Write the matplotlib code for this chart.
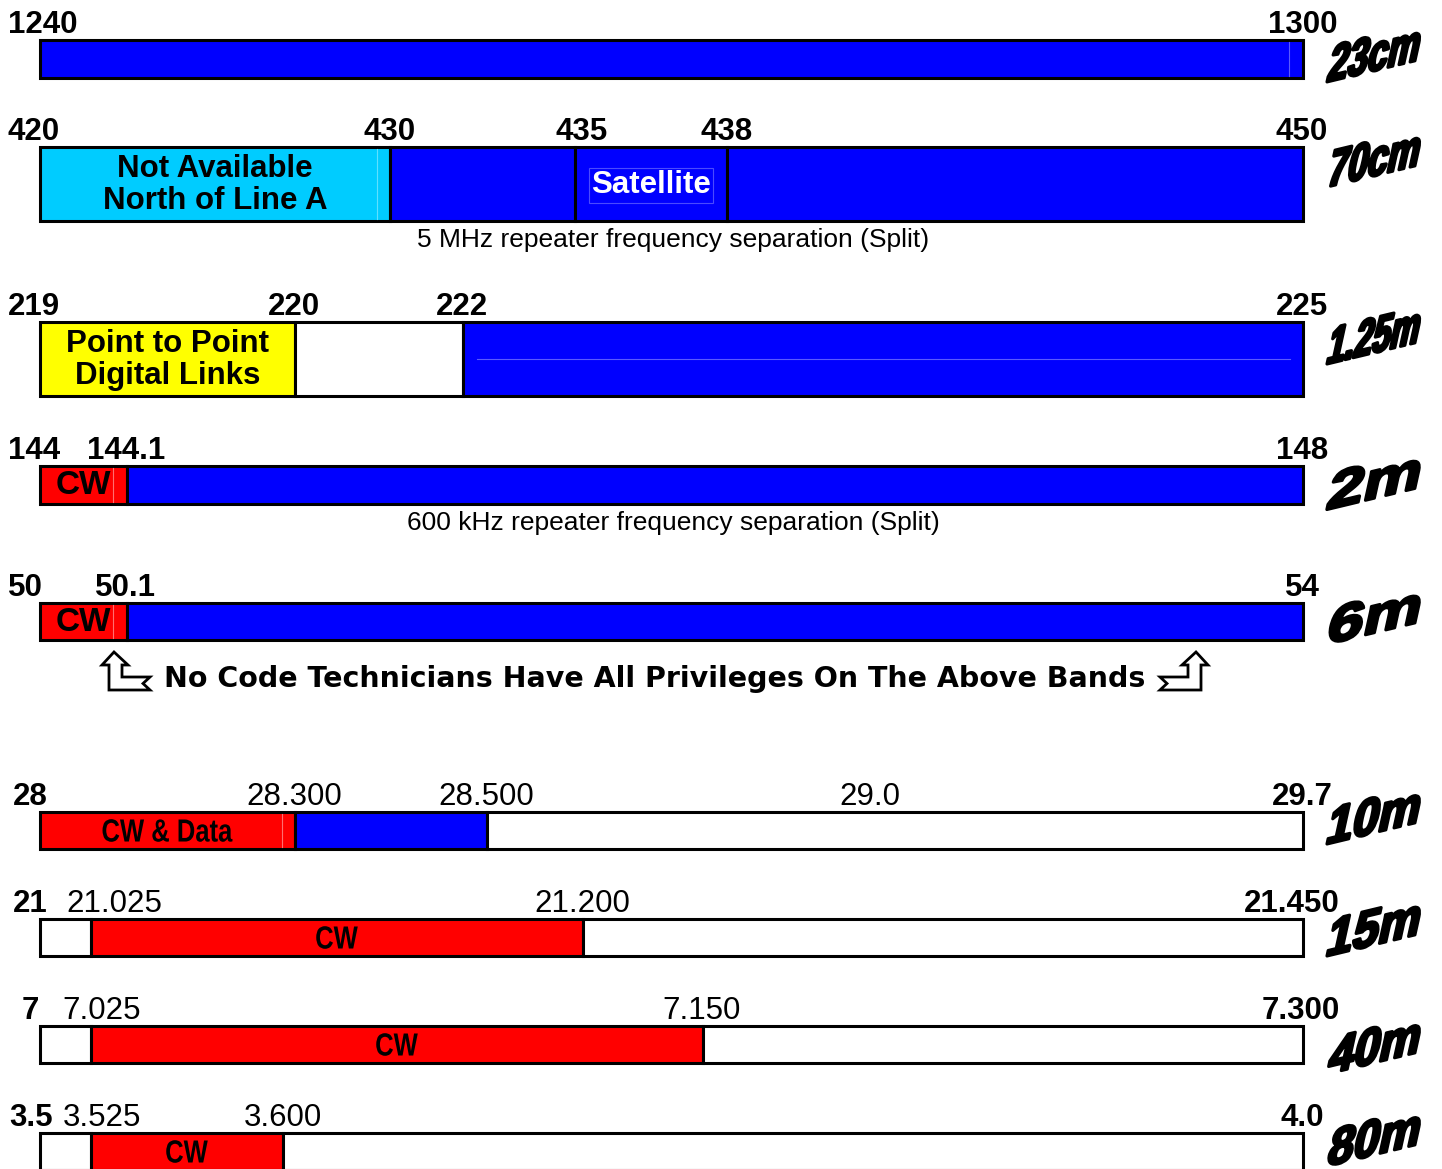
import math
import matplotlib.pyplot as plt
from matplotlib.patches import Polygon, PathPatch
from matplotlib.textpath import TextPath
from matplotlib.transforms import Affine2D
from matplotlib.font_manager import FontProperties

BLUE, CYAN, RED, YELLOW, WHITE = '#0000ff', '#00ccff', '#ff0000', '#ffff00', '#ffffff'

# --- band plan data ---
bands = ['23cm', '70cm', '1.25m', '2m', '6m', '10m', '15m', '40m', '80m']

freq_23cm = ['1240', '1300']
freq_70cm = ['420', '430', '435', '438', '450']
freq_125m = ['219', '220', '222', '225']
freq_2m = ['144', '144.1', '148']
freq_6m = ['50', '50.1', '54']
freq_10m = ['28', '28.300', '28.500', '29.0', '29.7']
freq_15m = ['21', '21.025', '21.200', '21.450']
freq_40m = ['7', '7.025', '7.150', '7.300']
freq_80m = ['3.5', '3.525', '3.600', '4.0']

colors_23cm = [BLUE]
colors_70cm = [CYAN, BLUE, BLUE, BLUE]
colors_125m = [YELLOW, WHITE, BLUE]
colors_2m = [RED, BLUE]
colors_6m = [RED, BLUE]
colors_10m = [RED, BLUE, WHITE]
colors_15m = [WHITE, RED, WHITE]
colors_40m = [WHITE, RED, WHITE]
colors_80m = [WHITE, RED, WHITE]

text_23cm = ['']
text_70cm = ['Not Available\nNorth of Line A', '', 'Satellite', '']
text_125m = ['Point to Point\nDigital Links', '', '']
text_2m = ['CW', '']
text_6m = ['CW', '']
text_10m = ['CW & Data', '', '']
text_15m = ['', 'CW', '']
text_40m = ['', 'CW', '']
text_80m = ['', 'CW', '']

captions = {'70cm': '5 MHz repeater frequency separation (Split)',
            '2m': '600 kHz repeater frequency separation (Split)'}
note = 'No Code Technicians Have All Privileges On The Above Bands'

freqs = [freq_23cm, freq_70cm, freq_125m, freq_2m, freq_6m,
         freq_10m, freq_15m, freq_40m, freq_80m]
colors = [colors_23cm, colors_70cm, colors_125m, colors_2m, colors_6m,
          colors_10m, colors_15m, colors_40m, colors_80m]
texts = [text_23cm, text_70cm, text_125m, text_2m, text_6m,
         text_10m, text_15m, text_40m, text_80m]

# --- layout (pixels) ---
stops = [[40, 1303], [40, 390, 575, 727, 1303], [40, 295, 463, 1303],
         [40, 127, 1303], [40, 127, 1303], [40, 295, 487, 1303],
         [40, 91, 583, 1303], [40, 91, 703, 1303], [40, 91, 283, 1303]]
label_x = [[8, 1303], [8, 390, 582, 727, 1302], [8, 294, 462, 1302],
           [8, 126, 1302], [8, 125, 1302], [30, 294, 486, 870, 1302],
           [30, 114, 582, 1292], [30, 102, 702, 1301], [31, 102, 283, 1302]]
bar_top = [40, 147, 322, 466, 603, 812, 919, 1026, 1133]
bar_h = [38, 74, 74, 38, 37, 37, 37, 37, 37]
name_y = [53, 158, 335, 480, 615, 815, 927, 1045, 1137]
seams = {0: ('v', 1289, '#5a5aff'), 1: ('v', 377, '#5fe0ff'),
         3: ('v', 113, '#ff7070'), 4: ('v', 113, '#ff7070'),
         5: ('v', 282, '#ff7070'), 2: ('h', (477, 1290), '#5a5aff')}

plt.rcParams['font.family'] = ['Liberation Sans', 'DejaVu Sans']
fig = plt.figure(figsize=(14.42, 11.69), dpi=100)
ax = fig.add_axes([0, 0, 1, 1])
ax.set_xlim(0, 1442)
ax.set_ylim(1169, 0)
ax.axis('off')

bold_fp = FontProperties(family='Liberation Sans', weight='bold')


def path_text(s, cx, cy, size, sx=1.0, fit=None, italic=0.0, rise=0.0, lw=0.0):
    """Draw text as a path centred on (cx, cy), in pixel data units."""
    tp = TextPath((0, 0), s, size=size, prop=bold_fp)
    bb = tp.get_extents()
    t = Affine2D().translate(-bb.x0 - bb.width / 2, -bb.y0 - bb.height / 2)
    if fit:
        t.scale(fit[0] / bb.width, fit[1] / bb.height)
    else:
        t.scale(sx, 1)
    t.skew(math.atan(italic), math.atan(rise)).scale(1, -1).translate(cx, cy)
    ax.add_patch(PathPatch(tp, transform=t + ax.transData, fc='black',
                           ec='black', lw=lw, joinstyle='round', zorder=5))


for i, band in enumerate(bands):
    top, h = bar_top[i], bar_h[i]
    yc = top + h / 2
    xs = stops[i]
    lower = i >= 5
    for j, (c, t) in enumerate(zip(colors[i], texts[i])):
        x0, x1 = xs[j], xs[j + 1]
        ax.barh(yc, x1 - x0, left=x0, height=h, color=c,
                edgecolor='black', linewidth=2.2, zorder=2)
        if not t:
            continue
        if lower:
            # narrow bold lettering
            path_text(t, (x0 + x1) / 2, yc, size=32, sx=0.8)
        else:
            tc = 'white' if c == BLUE else 'black'
            kw = {}
            if t == 'Satellite':
                kw['bbox'] = dict(boxstyle='square,pad=0.08', fc='none',
                                  ec='#4a4aff', lw=0.8)
            ax.text((x0 + x1) / 2, yc + 1, t, ha='center', va='center',
                    fontsize=24 if t == 'CW' else 22.5, fontweight='bold',
                    color=tc, linespacing=1.1, zorder=4, **kw)
    if i in seams:
        kind, pos, sc = seams[i]
        if kind == 'v':
            ax.plot([pos, pos], [top + 2, top + h - 2], color=sc, lw=0.8, zorder=3)
        else:
            ax.plot(pos, [yc, yc], color=sc, lw=0.8, zorder=3)

    # frequency labels above the bar
    n = len(freqs[i])
    for k, (lab, lx) in enumerate(zip(freqs[i], label_x[i])):
        bold = (not lower) or k == 0 or k == n - 1
        ha = 'left' if (k == 0 and not lower) else 'center'
        ax.text(lx, top - 7, lab, ha=ha, va='baseline', fontsize=22.5,
                fontweight='bold' if bold else 'normal', zorder=4)

    # band name, WordArt style
    path_text(band, 1375, name_y[i], size=50, fit=(88, 38),
              italic=0.22, rise=0.24, lw=2.2)

    if band in captions:
        ax.text(673, top + h + 19, captions[band], ha='center', va='center',
                fontsize=19, zorder=4)

# note with hollow arrows
ax.text(655, 679, note, ha='center', va='center', fontsize=20.5,
        fontweight='bold', family=['DejaVu Sans'])
arrow_shape = [(12, 0), (26, 13), (20, 13), (20, 25), (48, 25), (41, 31.5),
               (48, 38), (7, 38), (7, 13), (0, 13)]
ax.add_patch(Polygon([(102 + x, 652 + y) for x, y in arrow_shape],
                     closed=True, fc='white', ec='black', lw=2, zorder=4))
ax.add_patch(Polygon([(1208 - x, 652 + y) for x, y in arrow_shape],
                     closed=True, fc='white', ec='black', lw=2, zorder=4))

fig.savefig('out.png', dpi=100)
